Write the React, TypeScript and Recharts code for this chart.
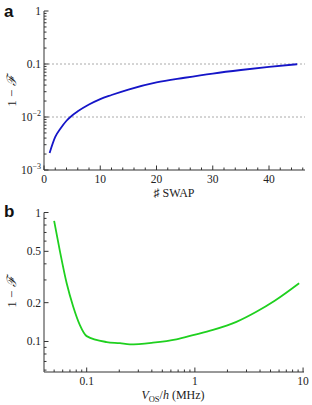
import React from 'react';
import { LineChart, Line, XAxis, YAxis, ReferenceLine } from 'recharts';

// panel a: infidelity vs number of SWAPs
const swapCount = [1, 2, 3, 4, 5, 6, 8, 10, 12, 15, 20, 25, 30, 35, 40, 45];
const swapInfidelity = [0.0021, 0.0042, 0.0062, 0.0085, 0.0107, 0.0128, 0.0172, 0.0218, 0.026, 0.033, 0.045, 0.055, 0.066, 0.077, 0.088, 0.099];

const swapXTicks = [0, 2, 4, 6, 8, 10, 12, 14, 16, 18, 20, 22, 24, 26, 28, 30, 32, 34, 36, 38, 40, 42, 44, 46];
const swapXMajor = [0, 10, 20, 30, 40];
const swapYTicks = [
  0.001, 0.002, 0.003, 0.004, 0.005, 0.006, 0.007, 0.008, 0.009,
  0.01, 0.02, 0.03, 0.04, 0.05, 0.06, 0.07, 0.08, 0.09,
  0.1, 0.2, 0.3, 0.4, 0.5, 0.6, 0.7, 0.8, 0.9, 1,
];
const swapYMajor = [0.001, 0.01, 0.1, 1];
const swapGrid = [0.1, 0.01];

// panel b: infidelity vs V_OS/h
const vosMHz = [0.05, 0.0566, 0.0653, 0.0751, 0.0865, 0.1, 0.153, 0.203, 0.25, 0.41, 0.675, 0.96, 1.47, 2.42, 3.7, 5.47, 9.2];
const vosInfidelity = [0.86, 0.5, 0.283, 0.186, 0.134, 0.11, 0.099, 0.097, 0.095, 0.098, 0.104, 0.112, 0.123, 0.142, 0.17, 0.207, 0.283];

const vosXTicks = [
  0.05, 0.06, 0.07, 0.08, 0.09,
  0.1, 0.2, 0.3, 0.4, 0.5, 0.6, 0.7, 0.8, 0.9,
  1, 2, 3, 4, 5, 6, 7, 8, 9, 10,
];
const vosXMajor = [0.1, 1, 10];
const vosYTicks = [0.06, 0.07, 0.08, 0.09, 0.1, 0.2, 0.3, 0.4, 0.5, 0.6, 0.7, 0.8, 0.9, 1];
const vosYMajor = [0.1, 0.2, 0.5, 1];

const FRAME = '#333';
const SERIF = 'Liberation Serif, DejaVu Serif, serif';

const isMajor = (v: number, majors: number[]) => majors.some((m) => Math.abs(m - v) < m * 1e-6 + 1e-9);

function tickLabel(v: number) {
  if (v < 0.05 && v > 0) {
    const exp = Math.round(Math.log10(v));
    return (
      <>
        10<tspan dy={-5} fontSize={8}>{exp === -2 ? '−2' : '−3'}</tspan>
      </>
    );
  }
  return String(v);
}

type Side = 'bottom' | 'top' | 'left' | 'right';

const makeTick = (side: Side, majors: number[], labels: boolean, logLabel = false) => (props: any) => {
  const { x, y, payload } = props;
  const v = payload.value as number;
  const major = isMajor(v, majors);
  const len = major ? 4.5 : 2.5;
  let line;
  if (side === 'bottom') line = <line x1={x} y1={y} x2={x} y2={y - len} stroke={FRAME} />;
  else if (side === 'top') line = <line x1={x} y1={y} x2={x} y2={y + len} stroke={FRAME} />;
  else if (side === 'left') line = <line x1={x} y1={y} x2={x + len} y2={y} stroke={FRAME} />;
  else line = <line x1={x} y1={y} x2={x - len} y2={y} stroke={FRAME} />;

  let text = null;
  if (labels && major) {
    if (side === 'bottom') {
      text = (
        <text x={x} y={y + 12.5} textAnchor="middle" style={{ fontFamily: SERIF }} fontSize={11.5} fill="#222">
          {String(v)}
        </text>
      );
    } else if (side === 'left') {
      text = (
        <text x={x - 3} y={y + 4} textAnchor="end" style={{ fontFamily: SERIF }} fontSize={11.5} fill="#222">
          {logLabel ? tickLabel(v) : String(v)}
        </text>
      );
    }
  }
  return (
    <g>
      {line}
      {text}
    </g>
  );
};

export default function App() {
  const swapData = swapCount.map((n, i) => ({ n, f: swapInfidelity[i] }));
  const vosData = vosMHz.map((v, i) => ({ v, f: vosInfidelity[i] }));

  return (
    <div style={{ position: 'absolute', left: 0, top: 0, width: 312, height: 405, background: '#fff' }}>
      {/* panel a */}
      <div style={{ position: 'absolute', left: 0, top: 0 }}>
        <LineChart width={312} height={200} data={swapData} margin={{ top: 11, right: 7, bottom: 0, left: 0 }}>
          <XAxis xAxisId="b" dataKey="n" type="number" domain={[0, 46.4]} allowDataOverflow ticks={swapXTicks} interval={0}
            height={30} axisLine={{ stroke: FRAME }} tickLine={false} tickSize={0} tickMargin={0}
            tick={makeTick('bottom', swapXMajor, true)} />
          <XAxis xAxisId="t" orientation="top" dataKey="n" type="number" domain={[0, 46.4]} allowDataOverflow ticks={swapXTicks} interval={0}
            height={0} axisLine={{ stroke: FRAME }} tickLine={false} tickSize={0} tickMargin={0}
            tick={makeTick('top', swapXMajor, false)} />
          <YAxis yAxisId="l" type="number" scale="log" domain={[0.001, 1]} allowDataOverflow ticks={swapYTicks} interval={0}
            width={44} axisLine={{ stroke: FRAME }} tickLine={false} tickSize={0} tickMargin={0}
            tick={makeTick('left', swapYMajor, true, true)} />
          <YAxis yAxisId="r" orientation="right" type="number" scale="log" domain={[0.001, 1]} allowDataOverflow ticks={swapYTicks} interval={0}
            width={0} axisLine={{ stroke: FRAME }} tickLine={false} tickSize={0} tickMargin={0}
            tick={makeTick('right', swapYMajor, false)} />
          {swapGrid.map((g) => (
            <ReferenceLine key={g} xAxisId="b" yAxisId="l" y={g} stroke="#aaa" strokeDasharray="2 2" />
          ))}
          <Line xAxisId="b" yAxisId="l" dataKey="f" type="monotone" stroke="#1515c8" strokeWidth={1.8} dot={false} isAnimationActive={false} />
        </LineChart>
      </div>

      {/* panel b */}
      <div style={{ position: 'absolute', left: 0, top: 200 }}>
        <LineChart width={312} height={205} data={vosData} margin={{ top: 12.5, right: 8, bottom: 0, left: 0 }}>
          <XAxis xAxisId="b" dataKey="v" type="number" scale="log" domain={[0.0403, 10.2]} allowDataOverflow ticks={vosXTicks} interval={0}
            height={33} axisLine={{ stroke: FRAME }} tickLine={false} tickSize={0} tickMargin={0}
            tick={makeTick('bottom', vosXMajor, true)} />
          <XAxis xAxisId="t" orientation="top" dataKey="v" type="number" scale="log" domain={[0.0403, 10.2]} allowDataOverflow ticks={vosXTicks} interval={0}
            height={0} axisLine={{ stroke: FRAME }} tickLine={false} tickSize={0} tickMargin={0}
            tick={makeTick('top', vosXMajor, false)} />
          <YAxis yAxisId="l" type="number" scale="log" domain={[0.058, 1]} allowDataOverflow ticks={vosYTicks} interval={0}
            width={44} axisLine={{ stroke: FRAME }} tickLine={false} tickSize={0} tickMargin={0}
            tick={makeTick('left', vosYMajor, true)} />
          <YAxis yAxisId="r" orientation="right" type="number" scale="log" domain={[0.058, 1]} allowDataOverflow ticks={vosYTicks} interval={0}
            width={0} axisLine={{ stroke: FRAME }} tickLine={false} tickSize={0} tickMargin={0}
            tick={makeTick('right', vosYMajor, false)} />
          <Line xAxisId="b" yAxisId="l" dataKey="f" type="monotone" stroke="#1fd01f" strokeWidth={1.8} dot={false} isAnimationActive={false} />
        </LineChart>
      </div>

      {/* panel letters and axis titles */}
      <svg width={312} height={405} style={{ position: 'absolute', left: 0, top: 0, pointerEvents: 'none' }}>
        <text x={4} y={17} style={{ fontFamily: 'Liberation Sans, Arial, sans-serif' }} fontWeight="bold" fontSize={17} fill="#111">a</text>
        <text x={4} y={217} style={{ fontFamily: 'Liberation Sans, Arial, sans-serif' }} fontWeight="bold" fontSize={17} fill="#111">b</text>

        <text transform="translate(16, 91) rotate(-90)" textAnchor="middle" style={{ fontFamily: SERIF }} fontSize={13} fill="#222">
          1 − <tspan fontStyle="italic">ℱ</tspan>
        </text>
        <text transform="translate(16, 292) rotate(-90)" textAnchor="middle" style={{ fontFamily: SERIF }} fontSize={13} fill="#222">
          1 − <tspan fontStyle="italic">ℱ</tspan>
        </text>

        <text x={174} y={197} textAnchor="middle" style={{ fontFamily: SERIF }} fontSize={12} fill="#222">♯ SWAP</text>
        <text x={173} y={399} textAnchor="middle" style={{ fontFamily: SERIF }} fontSize={12} fill="#222">
          <tspan fontStyle="italic">V</tspan>
          <tspan dy={2.5} fontSize={8.5}>OS</tspan>
          <tspan dy={-2.5}>/</tspan>
          <tspan fontStyle="italic">h</tspan> (MHz)
        </text>
      </svg>
    </div>
  );
}
